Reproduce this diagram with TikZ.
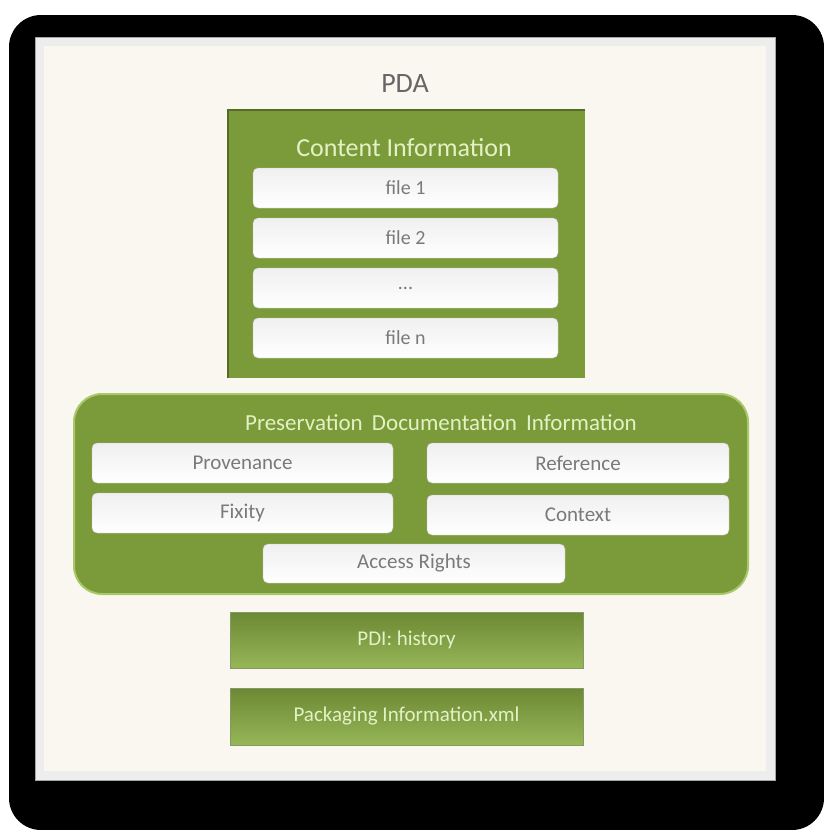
\documentclass[tikz,border=0pt]{standalone}
\usepackage{fontspec}
\setmainfont{Carlito}
\definecolor{pdagreen}{HTML}{7B9B3B}
\definecolor{pdadark}{HTML}{546C26}
\definecolor{pdalight}{HTML}{A8C86A}
\definecolor{pdatext}{HTML}{E3F1C4}
\definecolor{pdacream}{HTML}{F9F7EF}
\definecolor{pdagray}{HTML}{7A7A7A}

\begin{document}
\begin{tikzpicture}[x=1pt,y=-1pt,
    filebox/.style={rounded corners=5pt,draw=gray!50,top color=gray!12,bottom color=white,
        text=pdagray,inner sep=0pt,minimum width=305pt,minimum height=40pt,
        font=\fontsize{20}{24}\selectfont},
    docbox/.style={filebox,minimum width=301pt,font=\fontsize{21}{25}\selectfont},
    greenbar/.style={draw=pdadark!70,top color=pdagreen!88!black,middle color=pdagreen,
        bottom color=pdagreen!40!pdalight,text=pdatext,inner sep=0pt,minimum width=353pt,
        minimum height=56pt,font=\fontsize{21}{25}\selectfont},
    titletext/.style={text=pdatext,inner sep=0pt}]
    \useasboundingbox (0,0) rectangle (824,830);
    \fill[black,rounded corners=32pt] (9,15) rectangle (824,830);
    \draw[gray!70,fill=gray!14,line width=1pt] (35,37) rectangle (775,780);
    \fill[pdacream] (44,46) rectangle (766,771);
    \node[text=gray!80!black,font=\fontsize{28}{32}\selectfont] (pda) at (405,84) {PDA};

    \node[fill=pdagreen,inner sep=0pt,minimum width=357pt,minimum height=268pt] (content) at (406.5,244) {};
    \draw[pdadark,line width=2pt] (content.south west) -- (content.north west) -- (content.north east);
    \node[titletext,font=\fontsize{26}{30}\selectfont] (contenttitle) at (404,148) {Content Information};
    \node[filebox] (file1) at (405.5,188) {file 1};
    \node[filebox] (file2) at (405.5,238) {file 2};
    \node[filebox] (filedots) at (405.5,288) {...};
    \node[filebox] (filen) at (405.5,338) {file n};

    \node[rounded corners=28pt,draw=pdalight,line width=2pt,fill=pdagreen,inner sep=0pt,
        minimum width=674pt,minimum height=200pt] (pdi) at (411,494) {};
    \node[titletext,font=\fontsize{23}{27}\selectfont] (pdititle) at (441,423) {Preservation\hspace{4pt} Documentation\hspace{4pt} Information};
    \node[docbox] (provenance) at (242.5,463) {Provenance};
    \node[docbox,minimum width=302pt] (reference) at (578,463) {Reference};
    \node[docbox] (fixity) at (242.5,513) {Fixity};
    \node[docbox,minimum width=302pt] (context) at (578,515) {Context};
    \node[docbox,minimum width=302pt,minimum height=39pt] (access) at (414,563.5) {Access Rights};

    \node[greenbar] (history) at (406.5,640) {PDI: history};
    \node[greenbar,minimum height=57pt] (packaging) at (406.5,716.5) {Packaging Information.xml};
\end{tikzpicture}
\end{document}
